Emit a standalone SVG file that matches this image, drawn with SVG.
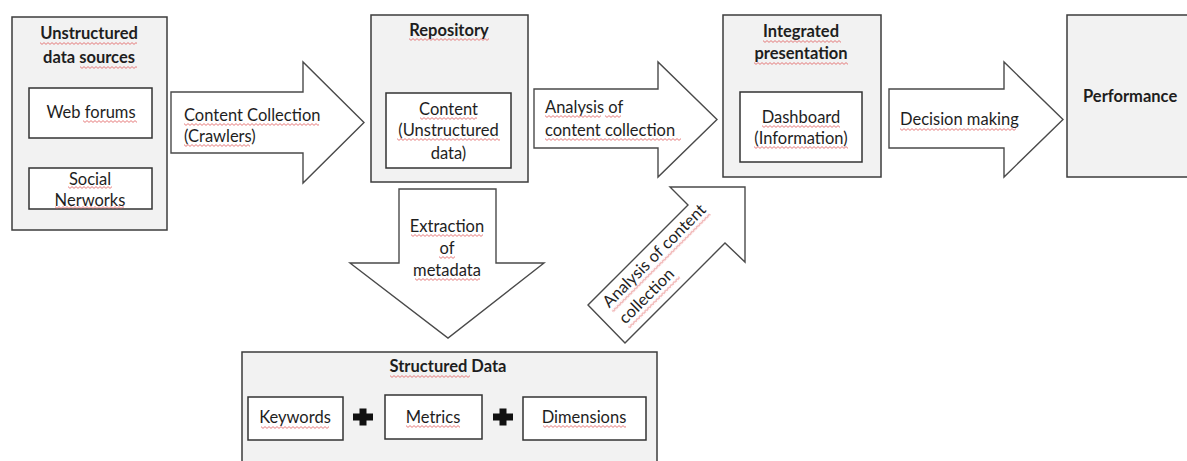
<svg xmlns="http://www.w3.org/2000/svg" width="1187" height="461" viewBox="0 0 1187 461">
<style>
text{font-family:Lato,"Open Sans","Liberation Sans",sans-serif;font-size:16.5px;fill:#1e1e1e}
.b{font-weight:bold}
.m{text-anchor:middle}
.outer{fill:#f2f2f2;stroke:#3c3c3c;stroke-width:1.5}
.inner{fill:#ffffff;stroke:#333333;stroke-width:1.5}
.arrow{fill:#ffffff;stroke:#4a4a4a;stroke-width:1.4;stroke-linejoin:miter}
.u{fill:url(#wave)}
</style>
<defs>
<pattern id="wave" width="4" height="3" patternUnits="userSpaceOnUse">
<path d="M0 0.6 L2 2.4 L4 0.6" fill="none" stroke="#e05a5a" stroke-width="0.8"/>
</pattern>
<path id="plus" d="M-3.5 -8.5 H3.5 V-3.5 H10 V3.5 H3.5 V8.5 H-3.5 V3.5 H-10 V-3.5 H-3.5 Z" fill="#111111"/>
</defs>
<rect width="1187" height="461" fill="#ffffff"/>

<g id="connectors">
<polygon class="arrow" points="171,92 303,92 303,62 364,122.5 303,183 303,153 171,153"/>
<text x="184" y="121">Content Collection</text>
<text x="184" y="142">(Crawlers)</text>
<rect class="u" transform="translate(184,123)" width="135" height="3"/>
<rect class="u" transform="translate(184,144)" width="66" height="3"/>

<polygon class="arrow" points="534,89 658,89 658,62 717,119.5 658,177 658,148 534,148"/>
<text x="545" y="113">Analysis of</text>
<text x="545" y="136">content collection</text>
<rect class="u" transform="translate(545,115)" width="56" height="3"/>
<rect class="u" transform="translate(605,115)" width="16" height="3"/>
<rect class="u" transform="translate(545,138)" width="136" height="3"/>

<polygon class="arrow" points="889,89 1004,89 1004,62 1063,119.5 1004,177 1004,148 889,148"/>
<text x="900" y="125">Decision making</text>
<rect class="u" transform="translate(900,128)" width="116" height="3"/>

<polygon class="arrow" points="399,189 496,189 496,263 544,263 448,338 350,263 399,263"/>
<text class="m" x="447" y="232">Extraction</text>
<text class="m" x="447" y="254">of</text>
<text class="m" x="447" y="276">metadata</text>
<rect class="u" transform="translate(411,234)" width="72" height="3"/>
<rect class="u" transform="translate(439,256)" width="16" height="3"/>
<rect class="u" transform="translate(415,278)" width="65" height="3"/>

<polygon class="arrow" points="588,305 688,205 670,187 745,187 745,262 725,243 625,343"/>
<g transform="translate(606.5,324) rotate(-45)">
<text x="13" y="-9">Analysis of content</text>
<text x="13" y="14">collection</text>
<rect class="u" transform="translate(13,-6)" width="138" height="3"/>
<rect class="u" transform="translate(13,17)" width="72" height="3"/>
</g>
</g>

<g id="unstructured-sources">
<rect class="outer" x="12" y="17" width="155" height="213"/>
<text class="b m" x="89" y="39">Unstructured</text>
<text class="b m" x="89" y="63">data sources</text>
<rect class="u" transform="translate(40,42)" width="97" height="3"/>
<rect class="u" transform="translate(80,66)" width="57" height="3"/>
</g>
<g id="web-forums">
<rect class="inner" x="29" y="88" width="123" height="50"/>
<text class="m" x="91" y="118">Web forums</text>
<rect class="u" transform="translate(83,120)" width="54" height="3"/>
</g>
<g id="social-networks">
<rect class="inner" x="29" y="168" width="123" height="41"/>
<text class="m" x="90" y="185">Social</text>
<text class="m" x="90" y="206">Nerworks</text>
<rect class="u" transform="translate(68,186)" width="44" height="3"/>
<rect class="u" transform="translate(55,206)" width="69" height="3"/>
</g>

<g id="repository">
<rect class="outer" x="371" y="15" width="157" height="167"/>
<text class="b m" x="449" y="36">Repository</text>
<rect class="u" transform="translate(409,38)" width="80" height="3"/>
</g>
<g id="content">
<rect class="inner" x="386" y="93" width="125" height="75"/>
<text class="m" x="448.5" y="115">Content</text>
<text class="m" x="448.5" y="136">(Unstructured</text>
<text class="m" x="448.5" y="159">data)</text>
<rect class="u" transform="translate(420,117)" width="57" height="3"/>
<rect class="u" transform="translate(397,138)" width="103" height="3"/>
</g>

<g id="integrated-presentation">
<rect class="outer" x="723" y="15" width="158" height="162"/>
<text class="b m" x="801" y="37">Integrated</text>
<text class="b m" x="801" y="59">presentation</text>
<rect class="u" transform="translate(763,40)" width="78" height="3"/>
<rect class="u" transform="translate(754,62)" width="94" height="3"/>
</g>
<g id="dashboard">
<rect class="inner" x="740" y="92" width="122" height="70"/>
<text class="m" x="801" y="123">Dashboard</text>
<text class="m" x="801" y="144">(Information)</text>
<rect class="u" transform="translate(762,125)" width="78" height="3"/>
<rect class="u" transform="translate(754,146)" width="94" height="3"/>
</g>

<g id="performance">
<rect class="outer" x="1067" y="15" width="140" height="162"/>
<text class="b" x="1083" y="102">Performance</text>
</g>

<g id="structured-data">
<rect class="outer" x="242" y="352" width="415" height="130"/>
<text class="b m" x="448" y="372">Structured Data</text>
<rect class="u" transform="translate(390,375)" width="80" height="3"/>
<use href="#plus" x="363" y="417"/>
<use href="#plus" x="503" y="417"/>
</g>
<g id="keywords">
<rect class="inner" x="248" y="397" width="95" height="43"/>
<text class="m" x="295" y="423">Keywords</text>
<rect class="u" transform="translate(261,426)" width="68" height="3"/>
</g>
<g id="metrics">
<rect class="inner" x="385" y="395" width="97" height="44"/>
<text class="m" x="433" y="423">Metrics</text>
<rect class="u" transform="translate(406,425)" width="54" height="3"/>
</g>
<g id="dimensions">
<rect class="inner" x="523" y="397" width="123" height="43"/>
<text class="m" x="584" y="423">Dimensions</text>
<rect class="u" transform="translate(543,425)" width="83" height="3"/>
</g>
</svg>
